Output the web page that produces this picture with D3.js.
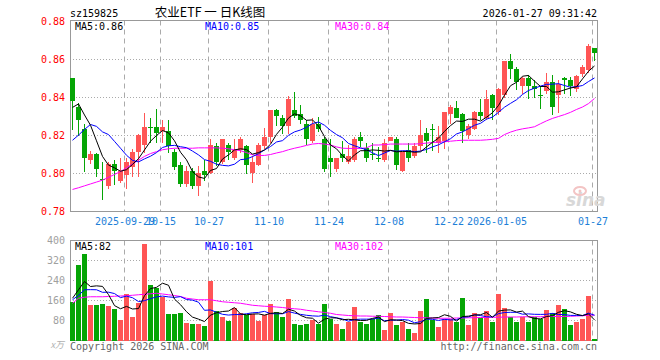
<!DOCTYPE html>
<html>
<head>
<meta charset="utf-8">
<script src="https://cdn.jsdelivr.net/npm/d3@7"></script>
<style>
  body { margin: 0; background: #fff; }
  text { font-family: "DejaVu Sans Mono", "Liberation Mono", monospace; font-size: 10px; }
</style>
</head>
<body>
<svg id="chart"></svg>
<script>
const width = 660;
const height = 360;

// daily candles, 2025-09-16 .. 2026-01-27
const opens = [.850,.835,.823,.807,.810,.797,.793,.805,.796,.799,.803,.811,.815,.824,.824,.822,.822,.811,.804,.794,
  .801,.793,.801,.800,.814,.806,.815,.808,.812,.814,.800,.804,.814,.819,.833,.829,.825,.833,.831,.826,
  .817,.826,.818,.808,.802,.810,.806,.807,.819,.813,.810,.808,.807,.817,.818,.801,.812,.809,.814,.821,
  .823,.816,.817,.831,.834,.831,.820,.823,.832,.829,.841,.832,.841,.859,.855,.846,.850,.846,.841,.843,
  .848,.841,.850,.849,.844,.852,.854,.866];
const highs = [.850,.837,.826,.812,.811,.806,.806,.807,.808,.808,.813,.821,.832,.829,.834,.828,.828,.813,.806,.804,
  .803,.804,.807,.818,.816,.818,.816,.818,.819,.815,.809,.816,.824,.833,.834,.831,.841,.843,.836,.828,
  .829,.830,.819,.818,.808,.817,.815,.819,.822,.816,.816,.814,.818,.819,.819,.811,.816,.816,.828,.824,
  .826,.825,.832,.836,.838,.832,.826,.833,.839,.844,.842,.845,.859,.863,.856,.851,.852,.849,.846,.853,
  .852,.849,.851,.851,.852,.857,.868,.866];
const lows = [.823,.820,.801,.805,.798,.786,.792,.794,.795,.792,.798,.798,.811,.816,.816,.816,.811,.802,.793,.793,
  .792,.788,.796,.800,.804,.805,.807,.807,.811,.800,.795,.804,.813,.816,.825,.821,.821,.829,.826,.815,
  .816,.822,.801,.798,.801,.806,.805,.806,.814,.806,.807,.806,.806,.817,.802,.801,.806,.808,.812,.811,
  .812,.811,.813,.826,.829,.816,.818,.823,.828,.828,.828,.831,.840,.850,.844,.842,.839,.840,.834,.842,
  .831,.832,.842,.841,.843,.851,.853,.859];
const closes = [.838,.828,.808,.810,.802,.797,.805,.801,.801,.806,.811,.820,.824,.824,.821,.824,.814,.803,.794,.801,
  .793,.800,.799,.815,.806,.818,.811,.812,.818,.804,.806,.815,.819,.833,.830,.825,.839,.830,.828,.818,
  .826,.823,.802,.806,.808,.808,.809,.818,.817,.808,.810,.808,.816,.819,.804,.811,.808,.814,.820,.817,
  .823,.819,.832,.835,.829,.822,.825,.832,.830,.839,.834,.844,.859,.855,.848,.850,.846,.844,.841,.848,
  .835,.847,.849,.846,.851,.856,.867,.863];
// volume, 万
const volumes = [156,304,348,144,141,145,140,128,81,188,93,149,385,224,212,176,108,108,112,72,
  68,67,60,240,120,93,77,129,112,104,107,80,104,148,115,93,165,68,61,68,
  83,67,148,88,65,48,75,136,76,68,87,103,44,112,64,75,48,32,120,168,
  83,56,88,88,75,172,64,112,92,120,76,188,132,96,76,96,76,96,88,124,
  112,144,128,64,76,87,177,8];
// the nine sessions before the first candle (for MA5 / MA10)
const prevCloses = [.801,.778,.784,.812,.826,.819,.837,.837,.843];
const prevVolumes = [126,126,140,145,248,134,183,244,128];
// MA30
const priceMA30 = [.7916,.7925,.7935,.7945,.7955,.7965,.798,.7995,.801,.803,.805,.807,.809,.8105,.8115,.8125,.813,.8133,.8133,.8133,
  .8133,.8135,.8135,.8135,.8135,.8133,.813,.8125,.812,.811,.8098,.8095,.8095,.810,.8108,.8115,.8125,.8133,.814,.8148,
  .8155,.8158,.8155,.815,.814,.8133,.8132,.8132,.8132,.8135,.815,.815,.8152,.8155,.8155,.8155,.8155,.8155,.8157,.816,
  .8163,.8165,.8167,.817,.8173,.8175,.8175,.8175,.8175,.8177,.818,.8185,.8205,.8218,.8228,.8235,.824,.8246,.8262,.8277,
  .829,.830,.831,.8322,.8337,.835,.8368,.8395];
const volMA30 = [149,169,173,175,175,175,176,177,178,179,181,183,185,187,189,186,183,180,176,169,
  166,163,163,163,159,155,153,151,149,145,141,139,137,136,134,132,129,127,125,121,
  118,115,112,109,104,102,100,99,98,98,97,97,96,95,94,94,93,92,91,91,
  90,89,89,89,90,90,91,91,92,92,93,93,94,94,94,95,95,95,95,96,
  96,96,96,97,98,99,101,102];

const tickIdx = [9, 15, 23, 33, 43, 53, 63, 71, 87];
const tickLabels = ["2025-09-29", "10-15", "10-27", "11-10", "11-24", "12-08", "12-22", "2026-01-05", "01-27"];
const priceTicks = [0.88, 0.86, 0.84, 0.82, 0.80, 0.78];
const volTicks = [400, 320, 240, 160, 80];

const RED = "#ff5555";
const GREEN = "#05a505";
const GRID = "#aaaaaa";
const FRAME = "#999999";

function movingAvg(values, prev, n) {
  const all = prev.concat(values);
  return values.map((v, i) => {
    const j = i + prev.length;
    return d3.mean(all.slice(j - n + 1, j + 1));
  });
}

const priceMA5 = movingAvg(closes, prevCloses, 5);
const priceMA10 = movingAvg(closes, prevCloses, 10);
const volMA5 = movingAvg(volumes, prevVolumes, 5);
const volMA10 = movingAvg(volumes, prevVolumes, 10);

const svg = d3.select("#chart")
  .attr("width", width)
  .attr("height", height);

const x = d3.scaleLinear().domain([0, 88]).range([70, 598]);
const yP = d3.scaleLinear().domain([0.78, 0.88]).range([211.5, 21.5]);
const yV = d3.scaleLinear().domain([0, 400]).range([340.5, 240.5]);

const panels = [
  { y: yP, top: 20.5, bottom: 211.5 },
  { y: yV, top: 240.5, bottom: 340.5 }
];

// grid
panels.forEach(p => {
  svg.append("g")
    .selectAll("line")
    .data(tickIdx)
    .enter()
    .append("line")
    .attr("x1", d => x(d) + 0.5)
    .attr("x2", d => x(d) + 0.5)
    .attr("y1", p.top)
    .attr("y2", p.bottom)
    .attr("stroke", GRID)
    .attr("stroke-dasharray", "5,4");
});

svg.append("g")
  .selectAll("line")
  .data(priceTicks.slice(1, -1))
  .enter()
  .append("line")
  .attr("x1", 70).attr("x2", 597)
  .attr("y1", d => yP(d)).attr("y2", d => yP(d))
  .attr("stroke", GRID)
  .attr("stroke-dasharray", "1,2");

svg.append("g")
  .selectAll("line")
  .data(volTicks.slice(1))
  .enter()
  .append("line")
  .attr("x1", 70).attr("x2", 597)
  .attr("y1", d => yV(d)).attr("y2", d => yV(d))
  .attr("stroke", GRID)
  .attr("stroke-dasharray", "1,2");

// frames
panels.forEach(p => {
  svg.append("rect")
    .attr("x", 70.5)
    .attr("y", p.top)
    .attr("width", 527)
    .attr("height", p.bottom - p.top)
    .attr("fill", "none")
    .attr("stroke", FRAME);
});

// axes
const axisP = svg.append("g")
  .attr("transform", "translate(70,0)")
  .call(d3.axisLeft(yP).tickValues(priceTicks).tickFormat(d3.format(".2f")).tickSize(0).tickPadding(5));
axisP.select(".domain").remove();
axisP.selectAll("text").attr("fill", "#ff0000").style("font-size", "10px")
  .style("font-family", "DejaVu Sans Mono, monospace");

const axisV = svg.append("g")
  .attr("transform", "translate(70,0)")
  .call(d3.axisLeft(yV).tickValues(volTicks).tickSize(0).tickPadding(5));
axisV.select(".domain").remove();
axisV.selectAll("text").attr("fill", "#a0a0a0").style("font-size", "10px")
  .style("font-family", "DejaVu Sans Mono, monospace");

const axisX = svg.append("g")
  .attr("transform", "translate(0.5,211)")
  .call(d3.axisBottom(x).tickValues(tickIdx).tickFormat((d, i) => tickLabels[i]).tickSize(0).tickPadding(7));
axisX.select(".domain").remove();
axisX.selectAll("text").attr("fill", "#1e7fd8").style("font-size", "10px")
  .style("font-family", "DejaVu Sans Mono, monospace");

// watermark
const wm = svg.append("g").attr("transform", "translate(566,206)");
wm.append("text")
  .attr("x", 0).attr("y", 0)
  .style("font-family", "DejaVu Sans, sans-serif")
  .style("font-size", "17px")
  .style("font-weight", "bold")
  .style("font-style", "italic")
  .attr("fill", "#d8d8d8")
  .text("sina");
wm.append("ellipse")
  .attr("cx", 14).attr("cy", -15).attr("rx", 6).attr("ry", 4)
  .attr("fill", "none").attr("stroke", "#f3c4c4").attr("stroke-width", 2);
wm.append("circle")
  .attr("cx", 14).attr("cy", -15).attr("r", 1.5)
  .attr("fill", "#f3c4c4");

// candles
const idx = d3.range(closes.length);
const up = i => closes[i] > opens[i];

svg.append("g")
  .selectAll("line")
  .data(idx)
  .enter()
  .append("line")
  .attr("x1", i => x(i) + 2.5)
  .attr("x2", i => x(i) + 2.5)
  .attr("y1", i => yP(highs[i]))
  .attr("y2", i => yP(lows[i]))
  .attr("stroke", i => up(i) ? RED : GREEN)
  .attr("shape-rendering", "crispEdges");

svg.append("g")
  .selectAll("rect")
  .data(idx)
  .enter()
  .append("rect")
  .attr("x", i => x(i))
  .attr("width", 5)
  .attr("y", i => yP(Math.max(opens[i], closes[i])) - 0.5)
  .attr("height", i => Math.max(1, Math.abs(yP(opens[i]) - yP(closes[i]))))
  .attr("fill", i => up(i) ? RED : GREEN)
  .attr("shape-rendering", "crispEdges");

// volume bars
svg.append("g")
  .selectAll("rect")
  .data(idx)
  .enter()
  .append("rect")
  .attr("x", i => x(i))
  .attr("width", 5)
  .attr("y", i => yV(volumes[i]))
  .attr("height", i => yV(0) - yV(volumes[i]))
  .attr("fill", i => up(i) ? RED : GREEN)
  .attr("shape-rendering", "crispEdges");

// moving averages
function maLine(values, yScale, color) {
  const line = d3.line()
    .x((d, i) => x(i) + 2.5)
    .y(d => yScale(d));
  svg.append("path")
    .datum(values)
    .attr("d", line)
    .attr("fill", "none")
    .attr("stroke", color)
    .attr("stroke-width", 1);
}

maLine(priceMA30, yP, "#ff00ff");
maLine(priceMA10, yP, "#0000ff");
maLine(priceMA5, yP, "#000000");
maLine(volMA30, yV, "#ff00ff");
maLine(volMA10, yV, "#0000ff");
maLine(volMA5, yV, "#000000");

// labels
const last = closes.length - 1;
const fmt2 = d3.format(".2f");
const fmt0 = d3.format(".0f");

const legendP = [
  { x: 75, text: `MA5:${fmt2(priceMA5[last])}`, color: "#000" },
  { x: 205, text: `MA10:${fmt2(priceMA10[last])}`, color: "#0000ff" },
  { x: 335, text: `MA30:${fmt2(priceMA30[last])}`, color: "#ff00ff" }
];
const legendV = [
  { x: 75, text: `MA5:${fmt0(volMA5[last])}`, color: "#000" },
  { x: 205, text: `MA10:${fmt0(volMA10[last])}`, color: "#0000ff" },
  { x: 335, text: `MA30:${fmt0(volMA30[last])}`, color: "#ff00ff" }
];

legendP.forEach(d => {
  svg.append("text").attr("x", d.x).attr("y", 30).attr("fill", d.color).text(d.text);
});
legendV.forEach(d => {
  svg.append("text").attr("x", d.x).attr("y", 250).attr("fill", d.color).text(d.text);
});

svg.append("text")
  .attr("x", 70).attr("y", 17)
  .attr("fill", "#000")
  .text("sz159825");

svg.append("text")
  .attr("x", 210).attr("y", 17)
  .attr("text-anchor", "middle")
  .style("font-family", "Noto Sans CJK SC, sans-serif")
  .style("font-size", "12.5px")
  .attr("fill", "#000")
  .text("农业ETF 一 日K线图");

svg.append("text")
  .attr("x", 597).attr("y", 17)
  .attr("text-anchor", "end")
  .attr("fill", "#000")
  .text("2026-01-27 09:31:42");

svg.append("text")
  .attr("x", 64).attr("y", 348)
  .attr("text-anchor", "end")
  .style("font-family", "Noto Sans CJK SC, sans-serif")
  .style("font-size", "9px")
  .style("font-style", "italic")
  .attr("fill", "#b0b0b0")
  .text("x万");

svg.append("text")
  .attr("x", 70).attr("y", 350)
  .attr("fill", "#666")
  .text("Copyright 2026 SINA.COM");

svg.append("text")
  .attr("x", 597).attr("y", 350)
  .attr("text-anchor", "end")
  .attr("fill", "#666")
  .text("http://finance.sina.com.cn");
</script>
</body>
</html>
